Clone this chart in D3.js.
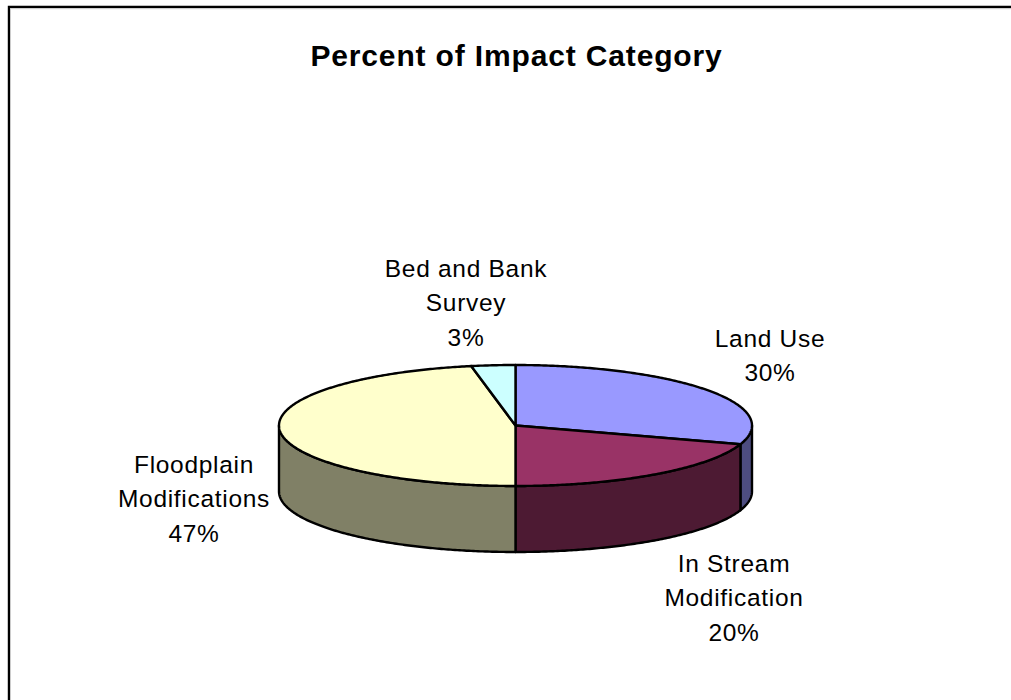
<!DOCTYPE html>
<html>
<head>
<meta charset="utf-8">
<script src="https://cdn.jsdelivr.net/npm/d3@7"></script>
<style>
  html, body { margin: 0; padding: 0; background: #fff; }
  svg { display: block; }
  text { font-family: "Liberation Sans", Arial, sans-serif; fill: #000; }
</style>
</head>
<body>
<svg id="chart" width="1011" height="700"></svg>
<script>
// Share of each impact category, clockwise from twelve o'clock
const categories = ["Land Use", "In Stream Modification", "Floodplain Modifications", "Bed and Bank Survey"];
const percents = [30, 20, 47, 3];
const labelLines = [["Land Use"], ["In Stream", "Modification"], ["Floodplain", "Modifications"], ["Bed and Bank", "Survey"]];
const topColors = ["#9999ff", "#993366", "#ffffcc", "#ccffff"];
const wallColors = ["#4d4d80", "#4d1a33", "#808066", "#668080"];

const svg = d3.select("#chart");

// Chart frame: only the top and left edges fall inside the window
svg.append("path").attr("d", "M9,700V7H1011").attr("fill", "none").attr("stroke", "#000").attr("stroke-width", 2.4);
svg.append("path").attr("d", "M7.5,700V8.8").attr("fill", "none").attr("stroke", "#c8c8c8").attr("stroke-width", 1);
svg.append("path").attr("d", "M10,8.7H1011").attr("fill", "none").attr("stroke", "#d0d0d0").attr("stroke-width", 1);

svg.append("text")
  .attr("x", 516.5).attr("y", 66)
  .attr("text-anchor", "middle")
  .attr("font-size", 30).attr("font-weight", "bold")
  .attr("letter-spacing", 0.85)
  .text("Percent of Impact Category");

// Flattened disc: unit circle coordinates mapped onto the page
const x = d3.scaleLinear().domain([-1, 1]).range([279, 752]);
const y = d3.scaleLinear().domain([-1, 1]).range([365, 486]);
const depth = 66;

const pie = d3.pie().sort(null).value(d => d).startAngle(0).endAngle(2 * Math.PI);
const arcs = pie(percents);
const line = d3.line();
const rim = (a, dy = 0) => [x(Math.sin(a)), y(-Math.cos(a)) + dy];
const sweep = (a0, a1) => {
  const n = Math.max(2, Math.ceil((a1 - a0) / 0.01));
  return d3.range(n + 1).map(i => a0 + (a1 - a0) * i / n);
};

// Side walls exist only on the front half of the disc
const frontStart = Math.PI / 2, frontEnd = 3 * Math.PI / 2;
const wallGroup = svg.append("g");
arcs.forEach((d, i) => {
  const a0 = Math.max(d.startAngle, frontStart), a1 = Math.min(d.endAngle, frontEnd);
  if (a1 <= a0) return;
  const upper = sweep(a0, a1).map(a => rim(a));
  const lower = sweep(a0, a1).reverse().map(a => rim(a, depth));
  wallGroup.append("path")
    .attr("d", line(upper.concat(lower)) + "Z")
    .attr("fill", wallColors[i])
    .attr("stroke", "#000").attr("stroke-width", 2.4).attr("stroke-linejoin", "round");
});

// Top face slices
const topGroup = svg.append("g");
arcs.forEach((d, i) => {
  const pts = [[x(0), y(0)]].concat(sweep(d.startAngle, d.endAngle).map(a => rim(a)));
  topGroup.append("path")
    .attr("d", line(pts) + "Z")
    .attr("fill", topColors[i])
    .attr("stroke", "#000").attr("stroke-width", 2.4).attr("stroke-linejoin", "round");
});

// Data labels, one baseline listed per slice for the first line
const labelX = [770, 734, 194, 466];
const labelY = [347, 572, 473, 277];
const lineGap = 34.4;
arcs.forEach((d, i) => {
  const lines = labelLines[i].concat(d3.format(".0f")(percents[i]) + "%");
  const t = svg.append("text")
    .attr("text-anchor", "middle")
    .attr("font-size", 24.5)
    .attr("letter-spacing", 0.7);
  lines.forEach((s, k) => {
    t.append("tspan").attr("x", labelX[i]).attr("y", labelY[i] + k * lineGap).text(s);
  });
});
</script>
</body>
</html>
